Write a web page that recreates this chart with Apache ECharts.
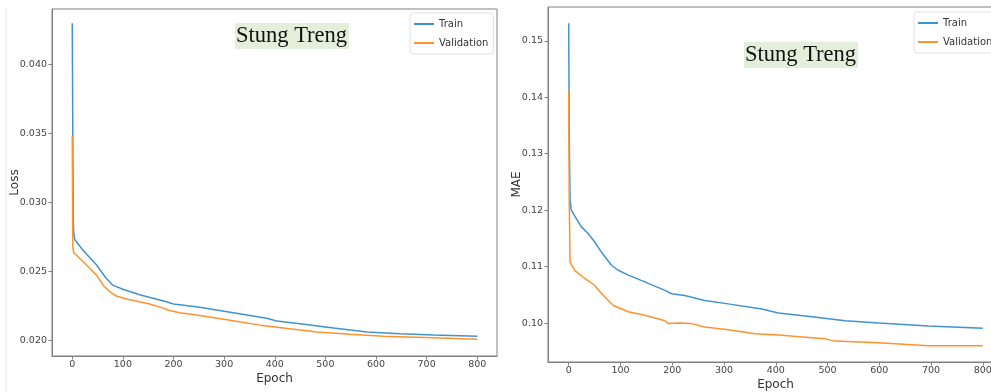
<!DOCTYPE html>
<html lang="en">
<head>
    <meta charset="UTF-8">
    <title>Stung Treng training curves</title>
    <script src="https://cdn.jsdelivr.net/npm/echarts@6/dist/echarts.min.js"></script>
    <style>
        html, body { margin: 0; padding: 0; background: #fff; }
        #main { width: 991px; height: 392px; }
    </style>
</head>
<body>
<div id="main"></div>

<script type="text/javascript">
    // epoch ticks (both panels)
    var epochTicks = [0, 100, 200, 300, 400, 500, 600, 700, 800];
    var lossTicks = [0.020, 0.025, 0.030, 0.035, 0.040];
    var maeTicks = [0.10, 0.11, 0.12, 0.13, 0.14, 0.15];

    // left panel: Loss  [epoch, value]
    var lossTrain = [
        [0, 0.0430], [2, 0.0285], [3, 0.02775], [5, 0.0273], [21, 0.02655], [48, 0.02546],
        [67, 0.0245], [80, 0.0240], [100, 0.0237], [133, 0.0233], [186, 0.0228],
        [200, 0.02263], [252, 0.0224], [318, 0.0220], [384, 0.0216], [404, 0.0214],
        [450, 0.0212], [516, 0.0209], [582, 0.0206], [648, 0.02048], [714, 0.02038], [800, 0.0203]
    ];
    var lossVal = [
        [0, 0.03483], [1, 0.0268], [3, 0.02635], [15, 0.02594], [28, 0.02546], [48, 0.02473],
        [61, 0.0240], [74, 0.02353], [87, 0.02321], [107, 0.0230], [153, 0.02263],
        [183, 0.0223], [185, 0.0224], [188, 0.0222], [212, 0.0220], [252, 0.0218],
        [318, 0.02142], [371, 0.0211], [417, 0.0209], [483, 0.0206], [549, 0.02043],
        [615, 0.0203], [714, 0.02019], [800, 0.02007]
    ];

    // right panel: MAE  [epoch, value]
    var maeTrain = [
        [0, 0.1531], [1, 0.1336], [2.6, 0.1218], [5, 0.1200], [12, 0.1189], [25, 0.1170],
        [37, 0.1159], [50, 0.1144], [63, 0.1126], [83, 0.1102], [95, 0.1094], [115, 0.1085],
        [147, 0.1073], [186, 0.1058], [199, 0.1052], [224, 0.1049], [263, 0.1040],
        [308, 0.1034], [373, 0.1025], [405, 0.1018], [470, 0.1011], [534, 0.1004],
        [599, 0.1000], [695, 0.0995], [800, 0.0991]
    ];
    var maeVal = [
        [0, 0.1412], [1, 0.1218], [2.6, 0.1108], [12, 0.1093], [31, 0.1079], [50, 0.1067],
        [63, 0.1053], [86, 0.1031], [115, 0.1020], [147, 0.1014], [186, 0.1004],
        [192, 0.0999], [212, 0.1000], [237, 0.0999], [263, 0.0993], [308, 0.0988],
        [360, 0.0981], [405, 0.0979], [470, 0.0974], [495, 0.0972], [515, 0.0968],
        [599, 0.0965], [695, 0.0960], [800, 0.0960]
    ];

    var trainColor = '#3f93d0';
    var valColor = '#ff922e';
    var frameColor = '#808080';
    var labelFont = 'DejaVu Sans';

    var chart = echarts.init(document.getElementById('main'));

    function xAxisFor(grid, gap) {
        return {
            gridIndex: grid,
            type: 'value',
            min: -40,
            max: 839,
            name: 'Epoch',
            nameLocation: 'middle',
            nameGap: gap,
            nameMoveOverlap: false,
            nameTextStyle: { fontFamily: labelFont, fontSize: 12, color: '#333' },
            axisLine: { show: true, onZero: false, lineStyle: { color: frameColor, width: 1 } },
            axisTick: { show: true, length: 3.5, customValues: epochTicks, lineStyle: { color: frameColor } },
            axisLabel: { customValues: epochTicks, fontFamily: labelFont, fontSize: 9.5, color: '#444', margin: 4 },
            splitLine: { show: false }
        };
    }

    function yAxisFor(grid, name, min, max, ticks, digits, gap) {
        return {
            gridIndex: grid,
            type: 'value',
            min: min,
            max: max,
            name: name,
            nameLocation: 'middle',
            nameGap: gap,
            nameMoveOverlap: false,
            nameTextStyle: { fontFamily: labelFont, fontSize: 12, color: '#333' },
            axisLine: { show: true, onZero: false, lineStyle: { color: frameColor, width: 1 } },
            axisTick: { show: true, length: 3.5, customValues: ticks, lineStyle: { color: frameColor } },
            axisLabel: {
                customValues: ticks,
                fontFamily: labelFont, fontSize: 9.5, color: '#444', margin: 5,
                formatter: function (v) { return v.toFixed(digits); }
            },
            splitLine: { show: false }
        };
    }

    function lineSeries(name, data, color, idx) {
        return {
            name: name,
            type: 'line',
            xAxisIndex: idx,
            yAxisIndex: idx,
            data: data,
            showSymbol: false,
            symbol: 'none',
            smooth: false,
            lineStyle: { color: color, width: 1.5 },
            itemStyle: { color: color }
        };
    }

    function legendFor(left, top) {
        return {
            left: left,
            top: top,
            orient: 'vertical',
            data: ['Train', 'Validation'],
            icon: 'rect',
            itemWidth: 20,
            itemHeight: 2,
            itemGap: 9,
            padding: [6, 5, 6, 4],
            backgroundColor: '#fff',
            borderColor: '#e0e0e0',
            borderWidth: 1,
            borderRadius: 3,
            selectedMode: false,
            textStyle: { fontFamily: labelFont, fontSize: 10, color: '#333' }
        };
    }

    function titleFor(left, top) {
        return {
            text: 'Stung Treng',
            left: left,
            top: top,
            padding: [2, 2, 1, 1],
            backgroundColor: '#e3efdb',
            textStyle: { fontFamily: 'Liberation Serif', fontSize: 22.5, fontWeight: 'normal', color: '#111' }
        };
    }

    var option = {
        animation: false,
        backgroundColor: '#fff',
        title: [titleFor(235, 23), titleFor(744, 42)],
        legend: [legendFor(410, 13), legendFor(914, 12)],
        grid: [
            { left: 52, top: 9, width: 445, height: 347, show: true, borderColor: frameColor, borderWidth: 1, containLabel: false, outerBoundsMode: 'none' },
            { left: 548, top: 7, width: 455, height: 355, show: true, borderColor: frameColor, borderWidth: 1, containLabel: false, outerBoundsMode: 'none' }
        ],
        xAxis: [xAxisFor(0, 17), xAxisFor(1, 17)],
        yAxis: [
            yAxisFor(0, 'Loss', 0.01886, 0.04404, lossTicks, 3, 31),
            yAxisFor(1, 'MAE', 0.0931, 0.1560, maeTicks, 2, 25)
        ],
        graphic: [
            { type: 'line', shape: { x1: 6, y1: 8, x2: 6, y2: 392 }, style: { stroke: '#e6e6e6', lineWidth: 1 } }
        ],
        series: [
            lineSeries('Train', lossTrain, trainColor, 0),
            lineSeries('Validation', lossVal, valColor, 0),
            lineSeries('Train', maeTrain, trainColor, 1),
            lineSeries('Validation', maeVal, valColor, 1)
        ]
    };
    chart.setOption(option);
</script>
</body>
</html>
